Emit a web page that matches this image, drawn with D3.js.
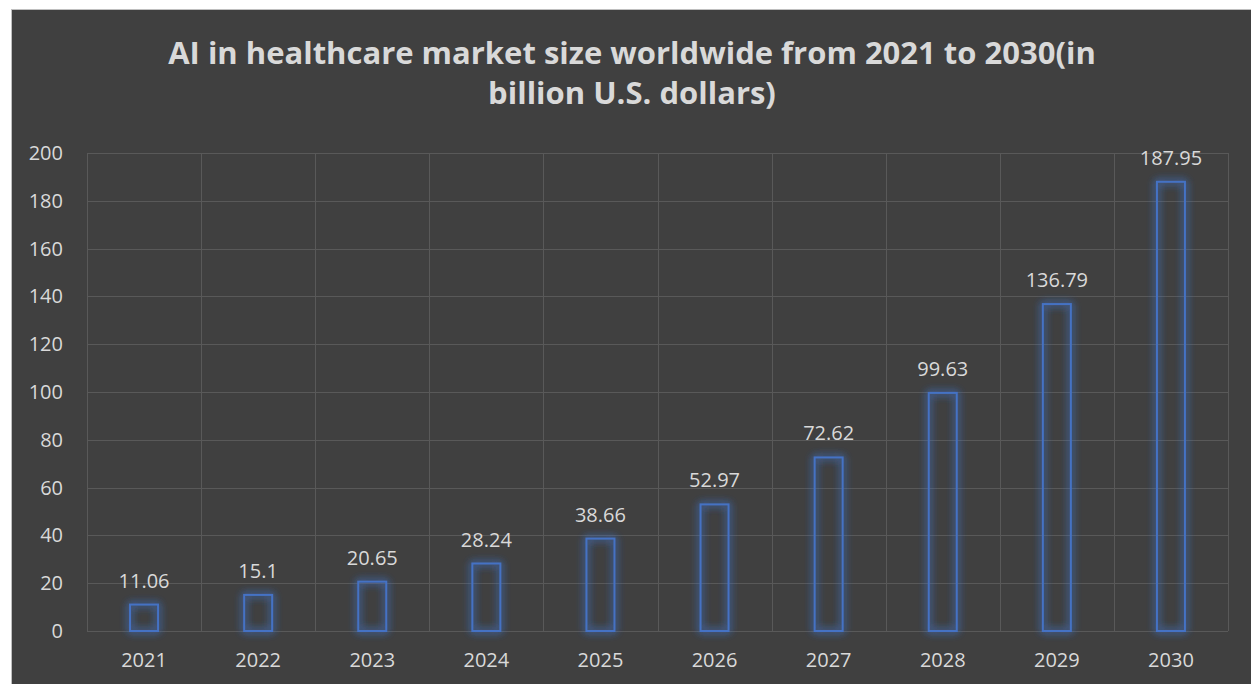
<!DOCTYPE html>
<html>
<head>
<meta charset="utf-8">
<script src="https://cdn.jsdelivr.net/npm/d3@7"></script>
<style>
  body { margin: 0; background: #ffffff; }
  #chart { width: 1251px; height: 684px; }
  text { font-family: "Open Sans", Lato, sans-serif; }
</style>
</head>
<body>
<div id="chart"><svg width="1251" height="684"></svg></div>
<script>
// data
const years = ["2021", "2022", "2023", "2024", "2025", "2026", "2027", "2028", "2029", "2030"];
const values = [11.06, 15.1, 20.65, 28.24, 38.66, 52.97, 72.62, 99.63, 136.79, 187.95];
const yTicks = [0, 20, 40, 60, 80, 100, 120, 140, 160, 180, 200];
const titleLines = ["AI in healthcare market size worldwide from 2021 to 2030(in", "billion U.S. dollars)"];

const width = 1251, height = 684;
const margin = {top: 153, left: 87, right: 23, bottom: 53};
const plotW = width - margin.left - margin.right;
const plotH = height - margin.top - margin.bottom;

const svg = d3.select("#chart svg");

// glow filter for the bar outlines
const defs = svg.append("defs");
const f = defs.append("filter").attr("id", "glow")
  .attr("x", "-50%").attr("y", "-50%").attr("width", "200%").attr("height", "200%");
f.append("feGaussianBlur").attr("in", "SourceGraphic").attr("stdDeviation", 4).attr("result", "b");
const m = f.append("feMerge");
m.append("feMergeNode").attr("in", "b");
m.append("feMergeNode").attr("in", "b");
m.append("feMergeNode").attr("in", "SourceGraphic");

// background
svg.append("rect")
  .attr("x", 11.5).attr("y", 9.5)
  .attr("width", width - 11).attr("height", height - 9)
  .attr("fill", "#404040")
  .attr("stroke", "#bfbfbf").attr("stroke-width", 1);

// title
svg.append("text")
  .attr("x", 632).attr("y", 64)
  .attr("text-anchor", "middle")
  .style("font-size", "31px").style("font-weight", "bold")
  .attr("fill", "#d9d9d9")
  .selectAll("tspan").data(titleLines).join("tspan")
  .attr("x", 632)
  .attr("dy", (d, i) => i === 0 ? 0 : 40)
  .text(d => d);

const x = d3.scaleBand().domain(years).range([0, plotW]).paddingInner(0).paddingOuter(0);
const y = d3.scaleLinear().domain([0, 200]).range([plotH, 0]);

const g = svg.append("g").attr("transform", `translate(${margin.left},${margin.top})`);

// gridlines
g.selectAll(".hgrid").data(yTicks).join("line")
  .attr("x1", 0).attr("x2", plotW)
  .attr("y1", d => Math.round(y(d)) + 0.5).attr("y2", d => Math.round(y(d)) + 0.5)
  .attr("stroke", "#595959").attr("stroke-width", 1);

g.selectAll(".vgrid").data(d3.range(years.length + 1)).join("line")
  .attr("x1", d => Math.round(d * x.step()) + 0.5).attr("x2", d => Math.round(d * x.step()) + 0.5)
  .attr("y1", 0).attr("y2", plotH)
  .attr("stroke", "#595959").attr("stroke-width", 1);

// y axis labels
g.append("g")
  .call(d3.axisLeft(y).tickValues(yTicks).tickSize(0).tickPadding(24))
  .call(a => a.select(".domain").remove())
  .selectAll("text")
  .attr("fill", "#d9d9d9")
  .style("font-size", "20px")
  .style("font-family", "'Open Sans', Lato, sans-serif");

// x axis labels
g.append("g")
  .attr("transform", `translate(0,${plotH})`)
  .call(d3.axisBottom(x).tickSize(0).tickPadding(22))
  .call(a => a.select(".domain").remove())
  .selectAll("text")
  .attr("fill", "#d9d9d9")
  .style("font-size", "20px")
  .style("font-family", "'Open Sans', Lato, sans-serif");

// bars
const barW = 28;
g.selectAll(".bar").data(values).join("rect")
  .attr("class", "bar")
  .attr("x", (d, i) => x(years[i]) + x.bandwidth() / 2 - barW / 2)
  .attr("y", d => y(d))
  .attr("width", barW)
  .attr("height", d => plotH - y(d))
  .attr("fill", "none")
  .attr("stroke", "#4472c4")
  .attr("stroke-width", 2)
  .attr("filter", "url(#glow)");

// data labels
g.selectAll(".lbl").data(values).join("text")
  .attr("x", (d, i) => x(years[i]) + x.bandwidth() / 2)
  .attr("y", d => y(d) - 17)
  .attr("text-anchor", "middle")
  .attr("fill", "#d9d9d9")
  .style("font-size", "20px")
  .text(d => d);
</script>
</body>
</html>
